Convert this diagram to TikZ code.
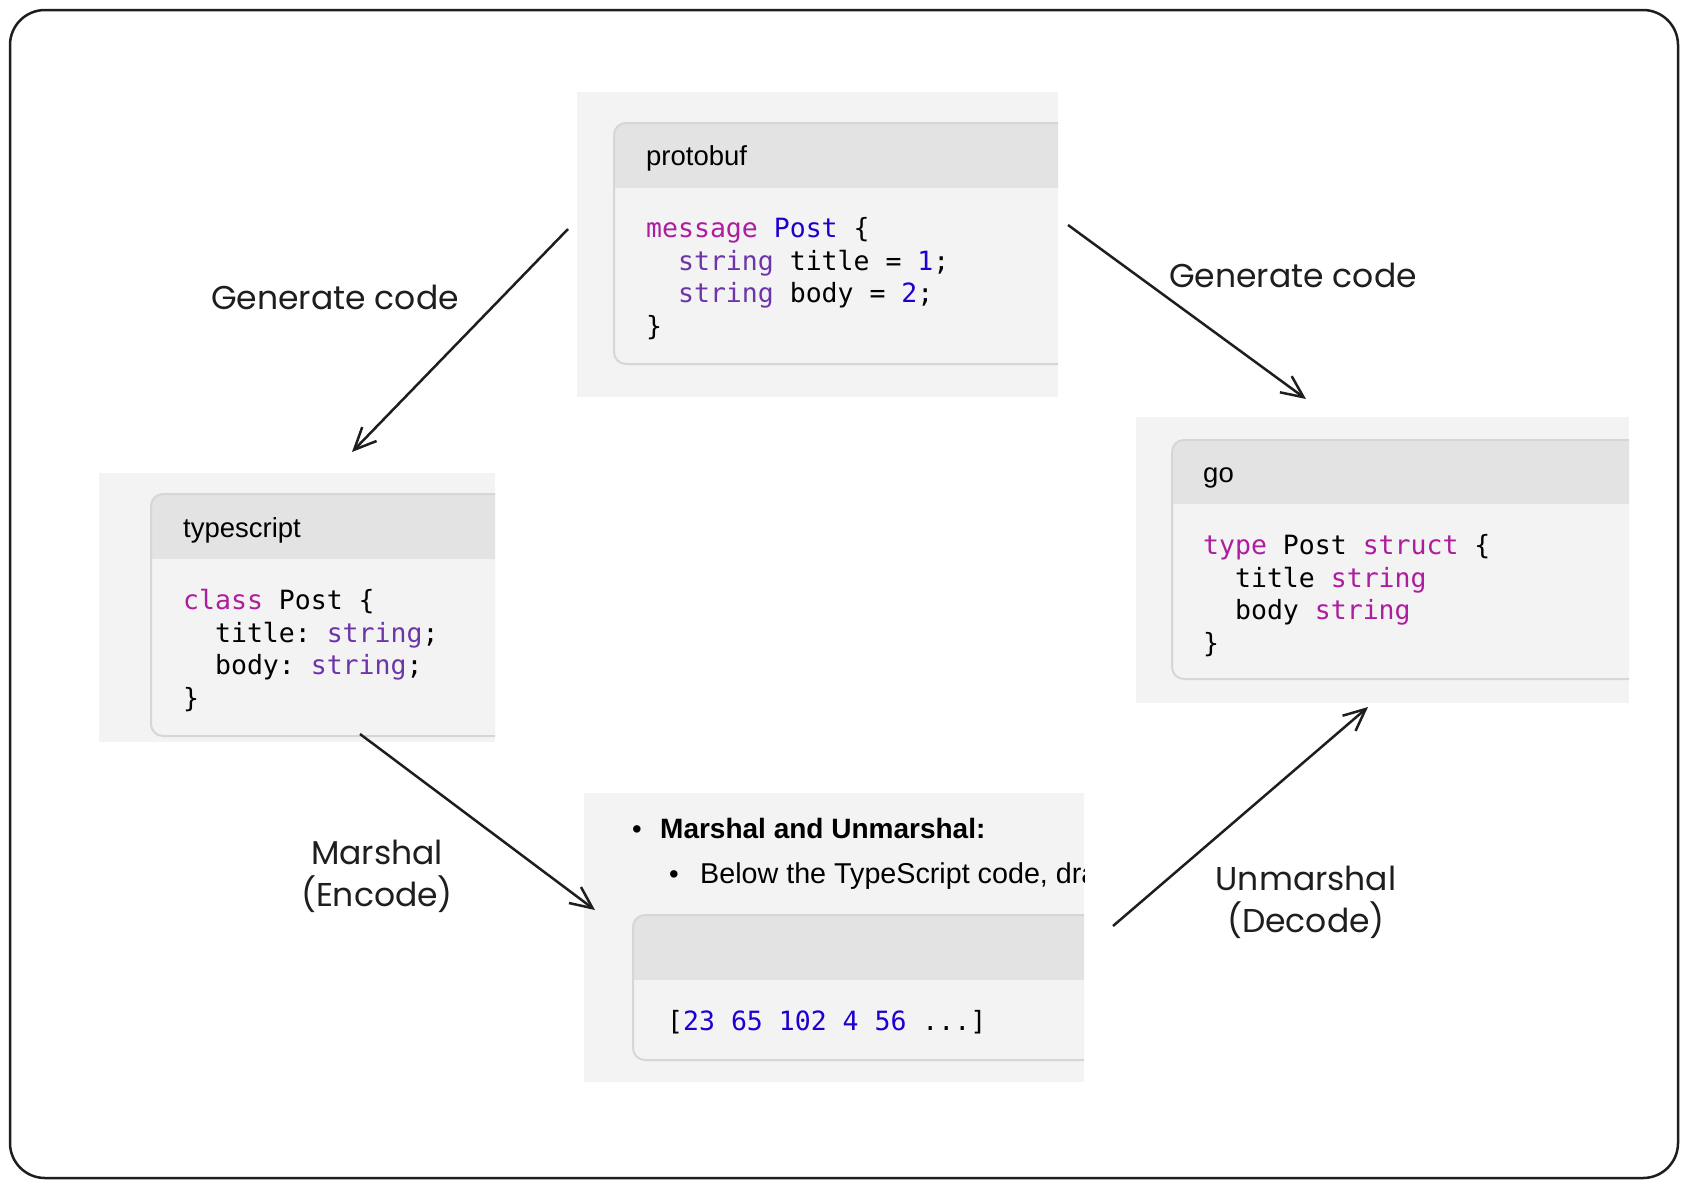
\documentclass[tikz,border=0pt]{standalone}
\usepackage{fontspec}
\setmainfont{Liberation Sans}
\setmonofont{DejaVu Sans Mono}
\newfontfamily\handfont{Poppins}
\usetikzlibrary{arrows.meta, positioning}
\definecolor{ink}{RGB}{30, 30, 30}
\definecolor{panelbg}{RGB}{243, 243, 243}
\definecolor{headbg}{RGB}{227, 227, 227}
\definecolor{cardline}{RGB}{214, 214, 214}
\definecolor{keyword}{RGB}{173, 29, 158}
\definecolor{typename}{RGB}{108, 54, 169}
\definecolor{number}{RGB}{28, 0, 207}

\newcommand{\kw}[1]{\textcolor{keyword}{#1}}
\newcommand{\ty}[1]{\textcolor{typename}{#1}}
\newcommand{\nm}[1]{\textcolor{number}{#1}}
% card inside a panel: left, top, header bottom, bottom
\newcommand{\codecard}[4]{%
  \fill[panelbg, rounded corners=12pt] (#1,#2) rectangle (#1+560,#4);
  \begin{scope}
    \clip (#1,#2) rectangle (#1+560,#3);
    \fill[headbg, rounded corners=12pt] (#1,#2) rectangle (#1+560,#4);
  \end{scope}
  \draw[cardline, line width=2pt, rounded corners=12pt] (#1,#2) rectangle (#1+560,#4);
}

\begin{document}
\begin{tikzpicture}[
            x=1pt, y=-1pt,
            panel/.style={rectangle, fill=panelbg, anchor=north west, inner sep=0pt, outer sep=0pt},
            title/.style={font=\fontsize{27.5pt}{32pt}\selectfont, anchor=base west, inner sep=0pt},
            code/.style={font=\ttfamily\fontsize{26.5pt}{32.5pt}\selectfont, align=left, anchor=base west, inner sep=0pt},
            hand/.style={font=\handfont\fontsize{33pt}{42pt}\selectfont, align=center, text=ink},
            flow/.style={draw=ink, line width=2.5pt, -{Straight Barb[length=22pt, width=20pt, line width=2.5pt]}}
        ]
            \useasboundingbox (0,0) rectangle (1688,1187);
            \draw[ink, line width=2.5pt, rounded corners=35pt] (10,10) rectangle (1678,1178);

            % PROTOBUF (code nodes sit on the baseline of their last line)
            \node[panel, minimum width=481pt, minimum height=305pt] (proto) at (577,92) {};
            \begin{scope}
                \clip (proto.north west) rectangle (proto.south east);
                \codecard{614}{123}{187}{364}
            \end{scope}
            \node[title] (protohead) at (646,165) {protobuf};
            \node[code] (protocode) at (646,335) {
                \kw{message} \nm{Post} \{\\
                \hphantom{xx}\ty{string} title = \nm{1};\\
                \hphantom{xx}\ty{string} body = \nm{2};\\
                \}
            };

            % TYPESCRIPT
            \node[panel, minimum width=396pt, minimum height=269pt] (ts) at (99,473) {};
            \begin{scope}
                \clip (ts.north west) rectangle (ts.south east);
                \codecard{151}{494}{558}{736}
            \end{scope}
            \node[title] (tshead) at (183,537) {typescript};
            \node[code] (tscode) at (183,707) {
                \kw{class} Post \{\\
                \hphantom{xx}title: \ty{string};\\
                \hphantom{xx}body: \ty{string};\\
                \}
            };

            % GO
            \node[panel, minimum width=493pt, minimum height=286pt] (go) at (1136,417) {};
            \begin{scope}
                \clip (go.north west) rectangle (go.south east);
                \codecard{1172}{440}{503}{679}
            \end{scope}
            \node[title] (gohead) at (1203,482) {go};
            \node[code] (gocode) at (1203,652) {
                \kw{type} Post \kw{struct} \{\\
                \hphantom{xx}title \kw{string}\\
                \hphantom{xx}body \kw{string}\\
                \}
            };

            % BYTES
            \node[panel, minimum width=500pt, minimum height=289pt] (bytes) at (584,793) {};
            \begin{scope}
                \clip (bytes.north west) rectangle (bytes.south east);
                \codecard{633}{915}{979}{1060}
                \node[title] (dot1) at (632,838) {\textbullet};
                \node[title, font=\bfseries\fontsize{28pt}{32pt}\selectfont] (marshalhead) at (660,838) {Marshal and Unmarshal:};
                \node[title] (dot2) at (669,883) {\textbullet};
                \node[title, font=\fontsize{28.7pt}{32pt}\selectfont] (marshalnote) at (700,883) {Below the TypeScript code, draw};
            \end{scope}
            \node[code] (bytescode) at (667,1030) {[\nm{23 65 102 4 56} ...]};

            % Relationships
            \coordinate (gl-s) at (568,229);
            \coordinate (gl-e) at (352,452);
            \coordinate (gr-s) at (1068,225);
            \coordinate (gr-e) at (1306,399);
            \coordinate (ml-s) at (360,734);
            \coordinate (ml-e) at (595,910);
            \coordinate (mr-s) at (1113,926);
            \coordinate (mr-e) at (1368,707);
            \draw[flow] (gl-s) -- (gl-e);
            \draw[flow] (gr-s) -- (gr-e);
            \draw[flow] (ml-s) -- (ml-e);
            \draw[flow] (mr-s) -- (mr-e);

            \node[hand] (genleft) at (335,297) {Generate code};
            \node[hand] (genright) at (1293,275) {Generate code};
            \node[hand] (encode) at (377,876) {Marshal\\(Encode)};
            \node[hand] (decode) at (1306,902) {Unmarshal\\(Decode)};
        \end{tikzpicture}
\end{document}
